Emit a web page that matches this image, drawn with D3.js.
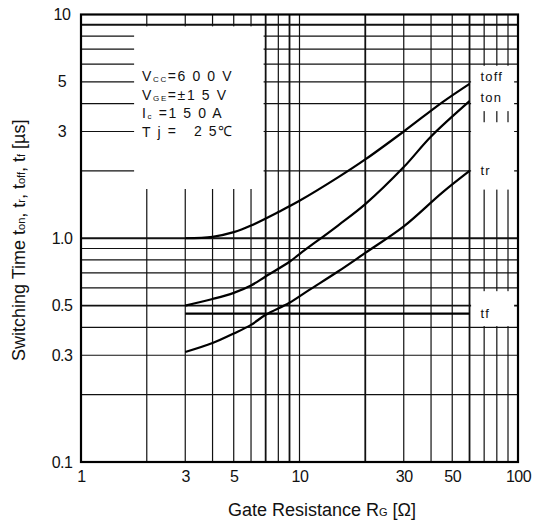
<!DOCTYPE html>
<html>
<head>
<meta charset="utf-8">
<script src="https://cdn.jsdelivr.net/npm/d3@7/dist/d3.min.js"></script>
<style>
body{margin:0;background:#fff}
svg text{font-family:"Liberation Sans",Arial,sans-serif;fill:#111}
</style>
</head>
<body>
<div id="chart"></div>
<script>
// axis ticks
var xTicks = [1, 3, 5, 10, 30, 50, 100]
var xTickLabels = ["1", "3", "5", "10", "30", "50", "100"]
var yTicks = [0.1, 0.3, 0.5, 1, 3, 5, 10]
var yTickLabels = ["0.1", "0.3", "0.5", "1.0", "3", "5", "10"]

// log grid
var gridX = [1,2,3,4,5,6,7,8,9,10,20,30,40,50,60,70,80,90,100]
var gridY = [0.1,0.2,0.3,0.4,0.5,0.6,0.7,0.8,0.9,1,2,3,4,5,6,7,8,9,10]

// series, Rg [ohm] -> time [us]
var toffRg = [3, 4, 5, 6, 8, 10, 15, 20, 30, 45, 60]
var toffT  = [1.0, 1.015, 1.065, 1.14, 1.31, 1.47, 1.87, 2.25, 3.0, 4.05, 4.9]
var tonRg  = [3, 4, 5, 6, 7, 9, 10, 15, 20, 30, 40, 60]
var tonT   = [0.50, 0.535, 0.57, 0.615, 0.675, 0.785, 0.85, 1.14, 1.42, 2.08, 2.85, 4.1]
var trRg   = [3, 4, 5, 6, 7, 9, 11, 15, 20, 30, 45, 60]
var trT    = [0.31, 0.34, 0.375, 0.41, 0.455, 0.515, 0.585, 0.71, 0.86, 1.13, 1.6, 2.0]
var tfRg   = [3, 10, 30, 60]
var tfT    = [0.46, 0.46, 0.46, 0.46]

var seriesNames = ["toff", "ton", "tr", "tf"]

var W = 538, H = 522
var margin = {top: 14.5, right: 20, bottom: 60, left: 81}
var width = W - margin.left - margin.right
var height = H - margin.top - margin.bottom

var svg = d3.select("#chart").append("svg")
    .attr("width", W)
    .attr("height", H)
var plot = svg.append("g")
    .attr("transform", `translate(${margin.left},${margin.top})`)

var xScale = d3.scaleLog().domain([1, 100]).range([0, width])
var yScale = d3.scaleLog().domain([0.1, 10]).range([height, 0])

// grid
var heavyX = [7, 9, 20, 60]
var heavyY = [1, 0.5, 9]
plot.append("g").selectAll("line").data(gridX).join("line")
    .attr("x1", d => xScale(d)).attr("x2", d => xScale(d))
    .attr("y1", 0).attr("y2", height)
    .attr("stroke", "#111")
    .attr("stroke-width", d => heavyX.includes(d) ? 1.8 : 1.2)
plot.append("g").selectAll("line").data(gridY).join("line")
    .attr("y1", d => yScale(d)).attr("y2", d => yScale(d))
    .attr("x1", 0).attr("x2", width)
    .attr("stroke", "#111")
    .attr("stroke-width", d => heavyY.includes(d) ? 1.8 : 1.2)

// blank areas left in the printed grid for the notes and curve names
var blanks = [
    {x0: 1.75, x1: 6.85, y0: 8.85, y1: 1.66},
    {x0: 61, x1: 96, y0: 5.9, y1: 3.7},
    {x0: 61, x1: 96, y0: 3.3, y1: 1.65},
    {x0: 61, x1: 96, y0: 0.58, y1: 0.405}
]
plot.append("g").selectAll("rect").data(blanks).join("rect")
    .attr("x", d => xScale(d.x0))
    .attr("y", d => yScale(d.y0))
    .attr("width", d => xScale(d.x1) - xScale(d.x0))
    .attr("height", d => yScale(d.y1) - yScale(d.y0))
    .attr("fill", "#fff")

// frame
plot.append("rect")
    .attr("width", width).attr("height", height)
    .attr("fill", "none").attr("stroke", "#000").attr("stroke-width", 2.2)

// axes
var xAxis = d3.axisBottom(xScale).tickValues(xTicks)
    .tickFormat((d, i) => xTickLabels[i]).tickSize(0).tickPadding(9)
var gx = plot.append("g").attr("transform", `translate(0,${height})`).call(xAxis)
gx.select(".domain").remove()
gx.selectAll("text").style("font-size", "16px").style("letter-spacing", "-0.5px")
    .attr("font-family", null)

var yAxis = d3.axisLeft(yScale).tickValues(yTicks)
    .tickFormat((d, i) => yTickLabels[i]).tickSize(0).tickPadding(18)
var gy = plot.append("g").call(yAxis)
gy.select(".domain").remove()
gy.selectAll("text").style("font-size", "16px").style("letter-spacing", "-0.5px")
    .attr("text-anchor", "middle").attr("x", -19).attr("font-family", null)

// curves
var line = d3.line()
    .x(d => xScale(d[0]))
    .y(d => yScale(d[1]))
    .curve(d3.curveCatmullRom.alpha(0.5))
var series = [
    d3.zip(toffRg, toffT),
    d3.zip(tonRg, tonT),
    d3.zip(trRg, trT),
    d3.zip(tfRg, tfT)
]
plot.append("g").selectAll("path").data(series).join("path")
    .attr("d", line)
    .attr("fill", "none")
    .attr("stroke", "#000")
    .attr("stroke-width", 2.2)

// curve names
plot.append("g").selectAll("text").data(series).join("text")
    .attr("x", d => xScale(d[d.length - 1][0]) + 11)
    .attr("y", d => yScale(d[d.length - 1][1]))
    .attr("dy", (d, i) => [-3, 1, 4, 4][i])
    .style("font-size", "13px")
    .style("letter-spacing", "1.2px")
    .text((d, i) => seriesNames[i])

// conditions note
var notes = plot.append("text")
    .attr("transform", `translate(${xScale(1.75) + 8},${yScale(5) - 1})`)
    .style("font-size", "14px")
    .style("letter-spacing", "1.6px")
    .style("white-space", "pre")
var noteLines = [
    ["V", "CC", "=6 0 0 V"],
    ["V", "GE", "=±1 5 V"],
    ["I", "c", " =1 5 0 A"],
    ["T j", "", " =   2 5℃"]
]
noteLines.forEach(function(l, i){
    notes.append("tspan").attr("x", 0).attr("y", i * 18.7).text(l[0])
    notes.append("tspan").style("font-size", "8px").attr("dy", 1).text(l[1])
    notes.append("tspan").attr("dy", -1).text(l[2])
})

// axis titles
svg.append("text")
    .attr("x", 322).attr("y", 516)
    .attr("text-anchor", "middle")
    .style("font-size", "18px")
    .html('Gate Resistance R<tspan style="font-size:11px">G</tspan> [Ω]')

svg.append("text")
    .attr("transform", `translate(25,${margin.top + yScale(1) + 2}) rotate(-90)`)
    .attr("text-anchor", "middle")
    .style("font-size", "18px")
    .html('Switching Time t<tspan style="font-size:11px">on</tspan>, t<tspan style="font-size:11px">r</tspan>, t<tspan style="font-size:11px">off</tspan>, t<tspan style="font-size:11px">f</tspan> [µs]')
</script>
</body>
</html>
